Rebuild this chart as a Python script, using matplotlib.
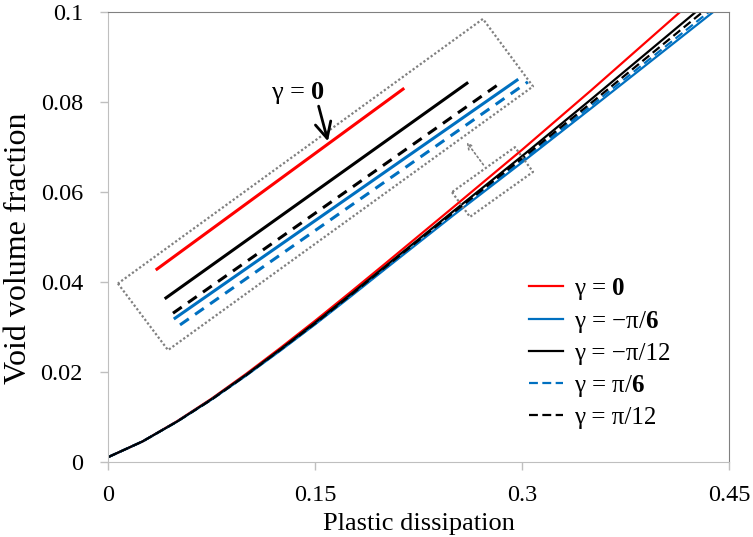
"""Void volume fraction vs plastic dissipation for several gamma values."""
import matplotlib
matplotlib.use("Agg")
import matplotlib.pyplot as plt

plt.rcParams["font.family"] = ["Liberation Serif", "DejaVu Serif"]
plt.rcParams["mathtext.fontset"] = "custom"
plt.rcParams["mathtext.rm"] = "Liberation Serif"
plt.rcParams["mathtext.bf"] = "Liberation Serif:bold"

# main curves
dissipation = [0.0, 0.025, 0.05, 0.075, 0.10, 0.125, 0.15, 0.175, 0.20,
               0.25, 0.30, 0.35, 0.40, 0.45]
f_g0 = [0.001, 0.0045, 0.0090, 0.0140, 0.0195, 0.0253, 0.0313, 0.0375, 0.0438,
        0.0565, 0.0693, 0.0825, 0.0960, 0.1095]
f_gm6 = [0.001, 0.0045, 0.0089, 0.0138, 0.0191, 0.0247, 0.0305, 0.0365, 0.0426,
         0.0547, 0.0665, 0.0785, 0.0906, 0.1027]
f_gm12 = [0.001, 0.0045, 0.0089, 0.0139, 0.0193, 0.0250, 0.0309, 0.0370, 0.0432,
          0.0556, 0.0679, 0.0805, 0.0933, 0.1061]
f_gp6 = [0.001, 0.0045, 0.0089, 0.0138, 0.0192, 0.0248, 0.0306, 0.0367, 0.0428,
         0.0550, 0.0669, 0.0791, 0.0913, 0.1035]
f_gp12 = [0.001, 0.0045, 0.0089, 0.0138, 0.0192, 0.0249, 0.0307, 0.0368, 0.0430,
          0.0553, 0.0674, 0.0797, 0.0922, 0.1047]

labels = [
    r"γ = $\mathbf{0}$",
    r"γ = −π/$\mathbf{6}$",
    "γ = −π/12",
    r"γ = π/$\mathbf{6}$",
    "γ = π/12",
]

# magnified view (segments placed in main-axis units)
inset_x = {
    "g0": [0.0355, 0.2138],
    "gm12": [0.0420, 0.2601],
    "gp12": [0.0471, 0.2841],
    "gm6": [0.0486, 0.2964],
    "gp6": [0.0522, 0.3043],
}
inset_y = {
    "g0": [0.0428, 0.0828],
    "gm12": [0.0364, 0.0841],
    "gp12": [0.0330, 0.0841],
    "gm6": [0.0319, 0.0848],
    "gp6": [0.0304, 0.0844],
}
big_box_x = [0.0072, 0.0435, 0.3080, 0.2717, 0.0072]
big_box_y = [0.0396, 0.0248, 0.0834, 0.0984, 0.0396]
small_box_x = [0.2493, 0.2623, 0.3080, 0.2949, 0.2493]
small_box_y = [0.0599, 0.0544, 0.0644, 0.0699, 0.0599]

RED = "#FF0000"
BLUE = "#0070C0"
GRAY = "#808080"

fig = plt.figure(figsize=(7.53, 5.37), dpi=100)
ax = fig.add_axes([0.1434, 0.1402, 0.8247, 0.838])

series = [
    (f_g0, RED, "-"),
    (f_gm6, BLUE, "-"),
    (f_gm12, "black", "-"),
    (f_gp6, BLUE, (0, (4, 2))),
    (f_gp12, "black", (0, (4, 2))),
]
for (vals, color, ls), lab in zip(series, labels):
    ax.plot(dissipation, vals, color=color, linestyle=ls, linewidth=1.6, label=lab)

# inset lines
inset_style = {
    "g0": (RED, "-"),
    "gm12": ("black", "-"),
    "gp12": ("black", (0, (3.5, 2.5))),
    "gm6": (BLUE, "-"),
    "gp6": (BLUE, (0, (3.5, 2.5))),
}
for key, (color, ls) in inset_style.items():
    ax.plot(inset_x[key], inset_y[key], color=color, linestyle=ls, linewidth=2.2)

ax.plot(big_box_x, big_box_y, color=GRAY, linestyle=(0, (1, 1)), linewidth=1.6)
ax.plot(small_box_x, small_box_y, color=GRAY, linestyle=(0, (1, 1)), linewidth=1.6)
ax.annotate("", xy=(0.2587, 0.0715), xytext=(0.2732, 0.0655),
            arrowprops=dict(arrowstyle="->", color=GRAY, linestyle=":", lw=1.2))

ax.annotate(r"γ = $\mathbf{0}$", xy=(0.1594, 0.0712), xytext=(0.1378, 0.0819),
            ha="center", va="center", fontsize=19,
            arrowprops=dict(arrowstyle="->,head_length=0.6,head_width=0.3",
                            color="black", lw=2, shrinkA=0, shrinkB=0,
                            patchA=None, relpos=(0.88, 0.0)))

ax.set_xlim(0, 0.45)
ax.set_ylim(0, 0.1)
ax.set_xticks([0, 0.15, 0.3, 0.45])
ax.set_xticklabels(["0", "0.15", "0.3", "0.45"])
ax.set_yticks([0, 0.02, 0.04, 0.06, 0.08, 0.1])
ax.set_yticklabels(["0", "0.02", "0.04", "0.06", "0.08", "0.1"])
ax.tick_params(direction="out", length=6, width=1, color="#BFBFBF",
               labelsize=17.5)
ax.tick_params(axis="x", pad=11)
ax.tick_params(axis="y", pad=12)
ax.set_xlabel("Plastic dissipation", fontsize=19, labelpad=5)
ax.set_ylabel("Void volume fraction", fontsize=23)
ax.yaxis.set_label_coords(-0.12, 0.475)

for side in ("left", "bottom"):
    ax.spines[side].set_color("#BFBFBF")
for side in ("top", "right"):
    ax.spines[side].set_color(GRAY)

ax.legend(loc="lower right", bbox_to_anchor=(0.93, 0.04), frameon=False,
          fontsize=18, handlelength=1.35, handletextpad=0.45, labelspacing=0.3,
          borderaxespad=0.2)

fig.savefig("out.png", dpi=100)
